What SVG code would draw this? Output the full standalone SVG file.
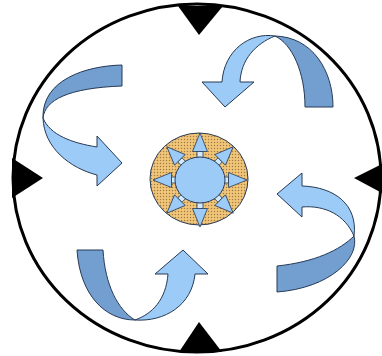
<svg xmlns="http://www.w3.org/2000/svg" width="382" height="356" viewBox="0 0 382 356">
<style>
.lt{fill:#9DCBF7;stroke:#263A55;stroke-width:1;stroke-linejoin:round}
.dk{fill:#739FD0;stroke:#263A55;stroke-width:1;stroke-linejoin:round}
.tri{fill:#000}
.sh{fill:#D2E8FB;stroke:#263A55;stroke-width:0.8}
.ah{fill:#9DCBF7;stroke:#263A55;stroke-width:0.8;stroke-linejoin:round}
</style>
<defs>
<pattern id="dots" width="3" height="3" patternUnits="userSpaceOnUse">
<rect width="3" height="3" fill="#F2C679"/>
<circle cx="1.5" cy="1.5" r="0.75" fill="#A27A45"/>
</pattern>
<g id="ray">
<rect class="sh" x="-3" y="-28.5" width="6" height="6"/>
<polygon class="ah" points="-7.5,-28.5 7.5,-28.5 0,-47"/>
</g>
</defs>
<g id="frame">
<ellipse cx="197" cy="178" rx="184" ry="174" fill="#fff" stroke="#000" stroke-width="3"/>
<polygon class="tri" points="178,6 223,6 199,35"/>
<polygon class="tri" points="179,352 222,352 199,322"/>
<polygon class="tri" points="12,158 12,198 43,178"/>
<polygon class="tri" points="382,164 382,193 354,178"/>
</g>
<g id="core">
<ellipse cx="199" cy="179" rx="49" ry="46" fill="url(#dots)" stroke="#263A55" stroke-width="1"/>
<g transform="translate(200,180)">
<use href="#ray"/>
<use href="#ray" transform="rotate(45)"/>
<use href="#ray" transform="rotate(90)"/>
<use href="#ray" transform="rotate(135)"/>
<use href="#ray" transform="rotate(180)"/>
<use href="#ray" transform="rotate(225)"/>
<use href="#ray" transform="rotate(270)"/>
<use href="#ray" transform="rotate(315)"/>
</g>
<ellipse cx="200" cy="180" rx="25" ry="23" fill="#9DCBF7" stroke="#263A55" stroke-width="1"/>
</g>
<g id="arrow-top-left">
<path class="dk" d="M122,65 C85,66 42,80 43,118 C45,100 68,88 122,86 Z"/>
<path class="lt" d="M43,118 C44,148 70,168 97,175 L97,186 L122,163 L97,136 L97,147 C72,143 50,135 43,118 Z"/>
</g>
<g id="arrow-top-right">
<path class="dk" d="M305,107 L333,107 C333,70 312,37 275,36 C292,44 305,72 305,107 Z"/>
<path class="lt" d="M275,36 C250,32 224,50 222,82 L202,82 L225,107 L254,82 L240,82 C241,60 255,44 275,36 Z"/>
</g>
<g id="arrow-right">
<path class="dk" d="M277,266 C315,262 340,250 354,236 C360,258 330,288 277,292 Z"/>
<path class="lt" d="M354,236 C358,205 335,187 302,186 L302,173 L277,194 L302,217 L302,207 C325,205 345,215 354,236 Z"/>
</g>
<g id="arrow-bottom-left">
<path class="dk" d="M77,250 L103,250 C105,285 118,310 135,320 C105,320 80,295 77,250 Z"/>
<path class="lt" d="M135,320 C165,322 192,305 195,274 L208,274 L183,250 L155,274 L168,274 C166,300 152,314 135,320 Z"/>
</g>
<g id="connectors"/>
</svg>
